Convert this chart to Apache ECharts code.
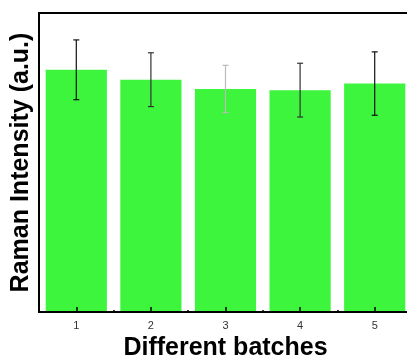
<!DOCTYPE html>
<html>
<head>
<meta charset="utf-8">
<script src="https://cdn.jsdelivr.net/npm/echarts@6/dist/echarts.min.js"></script>
<style>
  html, body { margin: 0; padding: 0; background: #fff; overflow: hidden; }
  #chart { width: 416px; height: 356px; }
</style>
</head>
<body>
<div id="chart"></div>
<script>
// Raman intensity of five batches, mean with +/- error
const batches = ['1', '2', '3', '4', '5'];
const meanIntensity = [810, 777, 746, 742, 764];
const errIntensity = [100, 90, 79, 90, 106];
const errColors = ['#111', '#333', '#bbb', '#333', '#111'];

const chart = echarts.init(document.getElementById('chart'));

const errData = batches.map((b, i) => [i, meanIntensity[i] - errIntensity[i], meanIntensity[i] + errIntensity[i]]);

chart.setOption({
  animation: false,
  grid: {
    left: 39, top: 13, bottom: 44, right: 4,
    outerBoundsMode: 'none',
    containLabel: false,
    show: true, borderColor: '#000', borderWidth: 2, backgroundColor: 'transparent'
  },
  xAxis: [{
    type: 'category',
    data: batches,
    boundaryGap: true,
    z: 5,
    name: 'Different batches',
    nameLocation: 'middle',
    nameGap: 10,
    nameTextStyle: { fontFamily: 'Liberation Sans', fontWeight: 'bold', fontSize: 25, color: '#000' },
    axisLine: { lineStyle: { color: '#000', width: 2 } },
    axisTick: { show: true, alignWithLabel: true, inside: true, length: 5, lineStyle: { color: '#000', width: 1.5 } },
    axisLabel: { fontFamily: 'Liberation Sans', fontSize: 11, color: '#333', margin: 8 },
    splitLine: { show: false }
  }, {
    type: 'category',
    data: batches,
    position: 'bottom',
    boundaryGap: true,
    z: 5,
    axisLine: { show: false },
    axisTick: { show: true, inside: true, length: 2, lineStyle: { color: '#000', width: 1.5 } },
    axisLabel: { show: false },
    splitLine: { show: false }
  }],
  yAxis: {
    type: 'value',
    min: 0, max: 1000,
    name: 'Raman Intensity (a.u.)',
    nameLocation: 'middle',
    nameGap: 5,
    nameTextStyle: { fontFamily: 'Liberation Sans', fontWeight: 'bold', fontSize: 25, color: '#000' },
    axisLine: { show: true, lineStyle: { color: '#000', width: 2 } },
    axisTick: { show: false },
    axisLabel: { show: false },
    splitLine: { show: false }
  },
  series: [{
    type: 'bar',
    data: meanIntensity,
    barCategoryGap: '18%',
    itemStyle: { color: '#3cf53c' },
    z: 1
  }, {
    type: 'custom',
    data: errData,
    z: 3,
    renderItem: function (params, api) {
      const i = api.value(0);
      const lo = api.coord([i, api.value(1)]);
      const hi = api.coord([i, api.value(2)]);
      const cap = 3;
      const color = errColors[params.dataIndex];
      const style = { stroke: color, lineWidth: 1.2 };
      return {
        type: 'group',
        children: [
          { type: 'line', shape: { x1: hi[0], y1: hi[1], x2: lo[0], y2: lo[1] }, style: style },
          { type: 'line', shape: { x1: hi[0] - cap, y1: hi[1], x2: hi[0] + cap, y2: hi[1] }, style: style },
          { type: 'line', shape: { x1: lo[0] - cap, y1: lo[1], x2: lo[0] + cap, y2: lo[1] }, style: style }
        ]
      };
    }
  }]
});
</script>
</body>
</html>
